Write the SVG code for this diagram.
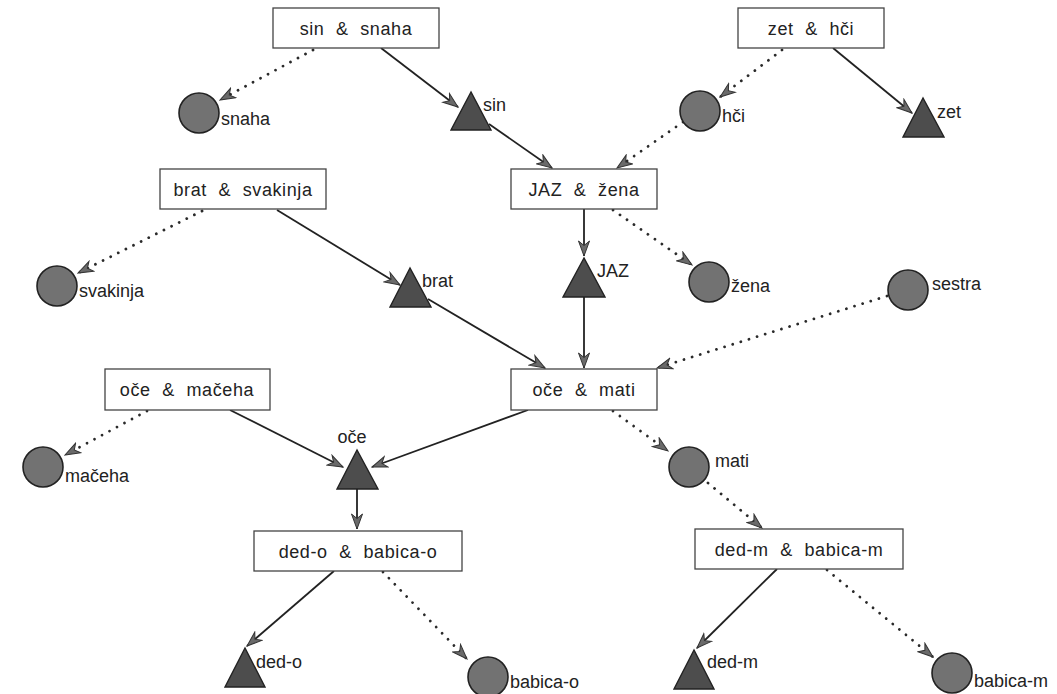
<svg xmlns="http://www.w3.org/2000/svg" width="1057" height="694" viewBox="0 0 1057 694">
<style>
  .box rect { fill: #ffffff; stroke: #444; stroke-width: 1.3; }
  .box text { font-family: "Liberation Sans", Arial, sans-serif; font-size: 18px; fill: #222; text-anchor: middle; letter-spacing: 0.6px; word-spacing: 6px; }
  .lbl { font-family: "Liberation Sans", Arial, sans-serif; font-size: 18px; fill: #222; }
  .tri { fill: #4d4d4d; stroke: #222; stroke-width: 1.4; }
  .cir { fill: #727272; stroke: #222; stroke-width: 1.6; }
  .solid { fill: none; stroke: #222; stroke-width: 1.8; marker-end: url(#ah); }
  .dot { fill: none; stroke: #2a2a2a; stroke-width: 2.8; stroke-dasharray: 0.01 8.5; stroke-linecap: round; marker-end: url(#ah); }
</style>
<defs>
  <marker id="ah" markerUnits="userSpaceOnUse" markerWidth="17" markerHeight="13" viewBox="0 0 17 13" refX="16" refY="6.5" orient="auto">
    <path d="M1,1 L16,6.5 L1,12 L5.5,6.5 z" fill="#6a6a6a" stroke="#333" stroke-width="1" stroke-dasharray="none"/>
  </marker>
</defs>
<rect width="1057" height="694" fill="#ffffff"/>

<g id="connectors">
  <path class="solid" d="M381,48 L458,107"/>
  <path class="solid" d="M489,124 L552,168"/>
  <path class="solid" d="M833,48 L912,113"/>
  <path class="solid" d="M277,210 L400,285"/>
  <path class="solid" d="M428,299 L545,368"/>
  <path class="solid" d="M584,209 L584,256"/>
  <path class="solid" d="M584,297 L584,368"/>
  <path class="solid" d="M230,410 L343,467"/>
  <path class="solid" d="M528,410 L372,467"/>
  <path class="solid" d="M357,489 L357,529"/>
  <path class="solid" d="M334,571 L247,646"/>
  <path class="solid" d="M777,569 L697,648"/>

  <path class="dot" d="M313,50 L220,100"/>
  <path class="dot" d="M782,50 L720,97"/>
  <path class="dot" d="M683,122 L617,168"/>
  <path class="dot" d="M202,211 L78,273"/>
  <path class="dot" d="M613,210 L692,265"/>
  <path class="dot" d="M887,296 L657,368"/>
  <path class="dot" d="M147,411 L65,455"/>
  <path class="dot" d="M613,411 L668,451"/>
  <path class="dot" d="M708,483 L762,528"/>
  <path class="dot" d="M383,572 L467,659"/>
  <path class="dot" d="M827,570 L933,657"/>
</g>

<g id="box-sin-snaha" class="box"><rect x="273" y="8" width="166" height="40"/><text x="356" y="35">sin &amp; snaha</text></g>
<g id="box-zet-hci" class="box"><rect x="738" y="8" width="146" height="40"/><text x="811" y="35">zet &amp; hči</text></g>
<g id="box-brat-svakinja" class="box"><rect x="160" y="169" width="166" height="40"/><text x="243" y="196">brat &amp; svakinja</text></g>
<g id="box-jaz-zena" class="box"><rect x="511" y="169" width="146" height="40"/><text x="584" y="196">JAZ &amp; žena</text></g>
<g id="box-oce-maceha" class="box"><rect x="105" y="369" width="165" height="41"/><text x="187" y="396">oče &amp; mačeha</text></g>
<g id="box-oce-mati" class="box"><rect x="511" y="369" width="146" height="41"/><text x="584" y="396">oče &amp; mati</text></g>
<g id="box-dedo-babicao" class="box"><rect x="254" y="531" width="208" height="40"/><text x="358" y="558">ded-o &amp; babica-o</text></g>
<g id="box-dedm-babicam" class="box"><rect x="695" y="529" width="208" height="40"/><text x="799" y="556">ded-m &amp; babica-m</text></g>

<g id="node-sin"><polygon class="tri" points="471,92 451,130 491,130"/><text class="lbl" x="483" y="111">sin</text></g>
<g id="node-zet"><polygon class="tri" points="923,98 903,137 944,137"/><text class="lbl" x="937" y="118">zet</text></g>
<g id="node-brat"><polygon class="tri" points="410,268 390,307 431,307"/><text class="lbl" x="422" y="287">brat</text></g>
<g id="node-jaz"><polygon class="tri" points="584,258 563,297 605,297"/><text class="lbl" x="597" y="277">JAZ</text></g>
<g id="node-oce"><polygon class="tri" points="357,450 337,489 378,489"/><text class="lbl" x="352" y="443" text-anchor="middle">oče</text></g>
<g id="node-ded-o"><polygon class="tri" points="245,648 225,687 265,687"/><text class="lbl" x="256" y="668">ded-o</text></g>
<g id="node-ded-m"><polygon class="tri" points="694,650 674,689 714,689"/><text class="lbl" x="707" y="668">ded-m</text></g>

<g id="node-snaha"><circle class="cir" cx="199" cy="113" r="20"/><text class="lbl" x="221" y="125">snaha</text></g>
<g id="node-hci"><circle class="cir" cx="700" cy="111" r="20"/><text class="lbl" x="722" y="122">hči</text></g>
<g id="node-svakinja"><circle class="cir" cx="57" cy="286" r="20"/><text class="lbl" x="79" y="297">svakinja</text></g>
<g id="node-zena"><circle class="cir" cx="709" cy="282" r="20"/><text class="lbl" x="731" y="292">žena</text></g>
<g id="node-sestra"><circle class="cir" cx="908" cy="290" r="20"/><text class="lbl" x="932" y="290">sestra</text></g>
<g id="node-maceha"><circle class="cir" cx="43" cy="467" r="20"/><text class="lbl" x="65" y="482">mačeha</text></g>
<g id="node-mati"><circle class="cir" cx="689" cy="467" r="20"/><text class="lbl" x="715" y="467">mati</text></g>
<g id="node-babica-o"><circle class="cir" cx="488" cy="677" r="20"/><text class="lbl" x="510" y="688">babica-o</text></g>
<g id="node-babica-m"><circle class="cir" cx="952" cy="673" r="20"/><text class="lbl" x="974" y="687">babica-m</text></g>
</svg>
